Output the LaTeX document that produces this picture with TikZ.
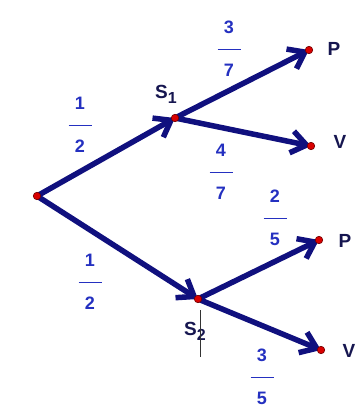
\documentclass[tikz,border=0pt]{standalone}
\usepackage{fontspec}
\setmainfont{Liberation Sans}
\usetikzlibrary{arrows.meta,positioning}
\definecolor{navy}{HTML}{10107E}
\definecolor{fracblue}{HTML}{2430C0}
\definecolor{lettc}{HTML}{161650}
\newcommand{\frc}[2]{#1\\\rule[5pt]{23pt}{1.5pt}\\#2}
\newcommand{\subs}[2]{#1\raisebox{-5pt}{\fontsize{16}{16}\selectfont #2}}

\begin{document}
\begin{tikzpicture}[x=1pt,y=-1pt,
  arr/.style={-{Straight Barb[length=15pt,width=22pt]},line width=5.5pt,draw=navy},
  dot/.style={circle,fill=red!85!black,draw=red!45!black,line width=.6pt,minimum size=7.5pt,inner sep=0pt},
  lett/.style={text=lettc,font=\fontsize{19}{19}\selectfont\bfseries,inner sep=0pt},
  prob/.style={text=fracblue,font=\fontsize{18}{21.5}\selectfont\bfseries,align=center,inner sep=0pt}]
\useasboundingbox (0,0) rectangle (362,410);
% branch points
\coordinate (r) at (37,196);
\coordinate (s1) at (175,118);
\coordinate (p1) at (309,50);
\coordinate (v1) at (311,146);
\coordinate (s2) at (198,299);
\coordinate (p2) at (319,240);
\coordinate (v2) at (321,350);
\draw[arr] (r) -- (s1);
\draw[arr] (r) -- (s2);
\draw[arr] (s1) -- (p1);
\draw[arr] (s1) -- (v1);
\draw[arr] (s2) -- (p2);
\draw[arr] (s2) -- (v2);
\foreach \pt in {r,s1,p1,v1,s2,p2,v2}
  \node[dot] at (\pt) {};
% outcomes
\node[lett] (ls1) at (166,94) {\subs{S}{1}};
\node[lett] (ls2) at (195,331) {\subs{S}{2}};
\draw[line width=.5pt,black!80] (200,310) -- (200,357);
\node[lett] (lp1) at (334,49) {P};
\node[lett] (lv1) at (340,142) {V};
\node[lett] (lp2) at (345,241) {P};
\node[lett] (lv2) at (349,351) {V};
% probabilities
\node[prob] (f1) at (80,125) {\frc{1}{2}};
\node[prob] (f2) at (90,282) {\frc{1}{2}};
\node[prob] (f3) at (229,49) {\frc{3}{7}};
\node[prob] (f4) at (221,172) {\frc{4}{7}};
\node[prob] (f5) at (275,218) {\frc{2}{5}};
\node[prob] (f6) at (262,377) {\frc{3}{5}};
\end{tikzpicture}
\end{document}
